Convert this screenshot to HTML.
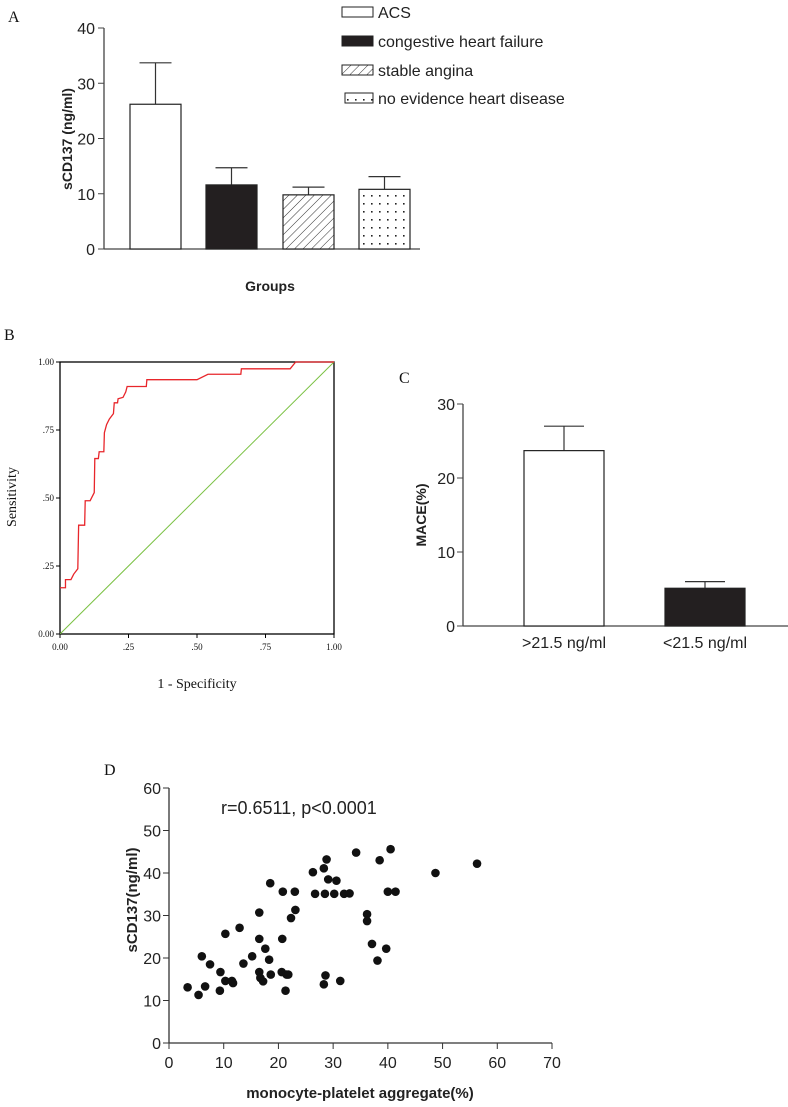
<!DOCTYPE html>
<html><head><meta charset="utf-8"><style>
body{margin:0;background:#fff}
svg{display:block}
.s{font-family:"Liberation Sans",sans-serif;fill:#222}
.r{font-family:"Liberation Serif",serif;fill:#111}
</style></head><body>
<svg id="fig" width="788" height="1107" viewBox="0 0 788 1107" xmlns="http://www.w3.org/2000/svg">
<defs>
<pattern id="hatch" width="6" height="6" patternUnits="userSpaceOnUse" patternTransform="rotate(45)"><rect width="6" height="6" fill="#fff"/><line x1="0" y1="0" x2="0" y2="6" stroke="#333" stroke-width="1"/></pattern>
<pattern id="dots" width="8" height="8" patternUnits="userSpaceOnUse"><rect width="8" height="8" fill="#fff"/><rect x="3" y="3" width="1.6" height="1.6" fill="#222"/></pattern>
</defs>
<g id="A"></g>
<g id="B"></g>
<g id="C"></g>
<g id="D"></g>
</svg>
<script>
// Panel A data
const aGroups = ["ACS","congestive heart failure","stable angina","no evidence heart disease"];
const aMeans = [26.2, 11.6, 9.8, 10.8];
const aErr = [33.7, 14.7, 11.2, 13.1];
const aTicks = [0,10,20,30,40];
// Panel B data
const rocFpr = [0,0.02,0.02,0.04,0.05,0.065,0.068,0.09,0.092,0.11,0.125,0.127,0.14,0.143,0.16,0.162,0.17,0.18,0.195,0.198,0.21,0.212,0.23,0.24,0.245,0.315,0.317,0.5,0.54,0.66,0.662,0.84,0.86,1];
const rocTpr = [0.17,0.17,0.2,0.2,0.22,0.24,0.4,0.4,0.49,0.49,0.52,0.645,0.645,0.67,0.67,0.74,0.77,0.79,0.81,0.85,0.85,0.865,0.87,0.89,0.91,0.91,0.935,0.935,0.955,0.955,0.975,0.975,1,1];
const bTicks = ["0.00",".25",".50",".75","1.00"];
// Panel C data
const cGroups = [">21.5 ng/ml","<21.5 ng/ml"];
const cMeans = [23.7, 5.1];
const cErr = [27.0, 6.0];
const cTicks = [0,10,20,30];
// Panel D data
const dX = [3.4,5.4,6,6.6,7.5,9.4,9.3,10.3,10.3,11.5,11.7,12.9,13.6,15.2,16.5,16.5,16.5,16.7,17.2,17.6,18.3,18.5,18.6,20.6,20.7,20.8,21.3,21.5,21.8,22.3,23,23.1,26.3,26.7,28.3,28.3,28.5,28.6,28.8,29.1,30.2,30.6,31.3,32,33,34.2,36.2,36.2,37.1,38.1,38.5,39.7,40,40.5,41.4,48.7,56.3];
const dY = [13.1,11.3,20.4,13.3,18.5,16.7,12.3,25.7,14.6,14.6,14.1,27.1,18.7,20.4,30.7,24.5,16.7,15.3,14.5,22.2,19.6,37.6,16.1,16.7,24.5,35.6,12.3,16.1,16.1,29.4,35.6,31.3,40.2,35.1,13.8,41.1,35.1,15.9,43.2,38.5,35.1,38.2,14.6,35.1,35.2,44.8,30.3,28.7,23.3,19.4,43,22.2,35.6,45.6,35.6,40,42.2];
const dXTicks = [0,10,20,30,40,50,60,70];
const dYTicks = [0,10,20,30,40,50,60];

const NS="http://www.w3.org/2000/svg";
function mk(parent,tag,attrs,text){const e=document.createElementNS(NS,tag);for(const k in attrs)e.setAttribute(k,attrs[k]);if(text!==undefined)e.textContent=text;parent.appendChild(e);return e;}

// ---------- Panel A ----------
const A=document.getElementById('A');
const ay=v=>249-(v/40)*221;
const aBarX=[130,206,283,359], aW=51;
const aFills=["#fff","#231f20","url(#hatch)","url(#dots)"];
let t=mk(A,'text',{x:8,y:22,class:'r','font-size':16},'A');

let ax=mk(A,'line',{x1:104,y1:28,x2:104,y2:249,stroke:'#444','stroke-width':1.3});

ax=mk(A,'line',{x1:104,y1:249,x2:420,y2:249,stroke:'#444','stroke-width':1.3});

aTicks.forEach(v=>{mk(A,'line',{x1:98,y1:ay(v),x2:104,y2:ay(v),stroke:'#444'});
 const l=mk(A,'text',{x:95,y:ay(v)+6,class:'s','font-size':16,'text-anchor':'end'},v);
 });
aMeans.forEach((v,i)=>{const cx=aBarX[i]+aW/2;
 mk(A,'line',{x1:cx,y1:ay(v),x2:cx,y2:ay(aErr[i]),stroke:'#333','stroke-width':1.2});
 mk(A,'line',{x1:cx-16,y1:ay(aErr[i]),x2:cx+16,y2:ay(aErr[i]),stroke:'#333','stroke-width':1.2});
 const b=mk(A,'rect',{x:aBarX[i],y:ay(v),width:aW,height:ay(0)-ay(v),fill:aFills[i],stroke:'#222','stroke-width':1.2});
 });
t=mk(A,'text',{x:0,y:0,class:'s','font-size':14,'font-weight':'bold','text-anchor':'middle',transform:'translate(72,139) rotate(-90)'},'sCD137 (ng/ml)');

t=mk(A,'text',{x:270,y:291,class:'s','font-size':14,'font-weight':'bold','text-anchor':'middle'},'Groups');

const legY=[12,41,70,98];
aGroups.forEach((g,i)=>{const r=mk(A,'rect',{x:i==3?345:342,y:legY[i]-5,width:i==3?28:31,height:10,fill:aFills[i],stroke:'#222','stroke-width':1});
 
 const l=mk(A,'text',{x:378,y:legY[i]+6,class:'s','font-size':16},g);
 });

// ---------- Panel B ----------
const B=document.getElementById('B');
const bx=v=>60+v*274, by=v=>634-v*272;
t=mk(B,'text',{x:4,y:340,class:'r','font-size':16},'B');

let fr=mk(B,'rect',{x:60,y:362,width:274,height:272,fill:'none',stroke:'#000','stroke-width':1.3});

let dg=mk(B,'line',{x1:bx(0),y1:by(0),x2:bx(1),y2:by(1),stroke:'#7ac143','stroke-width':1});

const rp=rocFpr.map((f,i)=>bx(f)+','+by(rocTpr[i])).join(' ');
let rl=mk(B,'polyline',{points:rp,fill:'none',stroke:'#e8262b','stroke-width':1.3});

bTicks.forEach((s,i)=>{const v=i/4;
 mk(B,'line',{x1:56,y1:by(v),x2:60,y2:by(v),stroke:'#000'});
 mk(B,'line',{x1:bx(v),y1:634,x2:bx(v),y2:638,stroke:'#000'});
 let l=mk(B,'text',{x:54,y:by(v)+3,class:'r','font-size':9,'text-anchor':'end'},s);
 
 l=mk(B,'text',{x:bx(v),y:650,class:'r','font-size':9,'text-anchor':'middle'},s);
 });
t=mk(B,'text',{x:0,y:0,class:'r','font-size':14,'text-anchor':'middle',transform:'translate(16,497) rotate(-90)'},'Sensitivity');

t=mk(B,'text',{x:197,y:688,class:'r','font-size':14,'text-anchor':'middle'},'1 - Specificity');


// ---------- Panel C ----------
const C=document.getElementById('C');
const cy=v=>626-(v/30)*222;
const cBarX=[524,665], cW=80, cFills=["#fff","#231f20"];
t=mk(C,'text',{x:399,y:383,class:'r','font-size':16},'C');

ax=mk(C,'line',{x1:463,y1:404,x2:463,y2:626,stroke:'#444','stroke-width':1.3});

ax=mk(C,'line',{x1:463,y1:626,x2:788,y2:626,stroke:'#444','stroke-width':1.3});

cTicks.forEach(v=>{mk(C,'line',{x1:457,y1:cy(v),x2:463,y2:cy(v),stroke:'#444'});
 const l=mk(C,'text',{x:455,y:cy(v)+6,class:'s','font-size':16,'text-anchor':'end'},v);
 });
cMeans.forEach((v,i)=>{const cx=cBarX[i]+cW/2;
 mk(C,'line',{x1:cx,y1:cy(v),x2:cx,y2:cy(cErr[i]),stroke:'#333','stroke-width':1.2});
 mk(C,'line',{x1:cx-20,y1:cy(cErr[i]),x2:cx+20,y2:cy(cErr[i]),stroke:'#333','stroke-width':1.2});
 const b=mk(C,'rect',{x:cBarX[i],y:cy(v),width:cW,height:cy(0)-cy(v),fill:cFills[i],stroke:'#222','stroke-width':1.2});
 
 const l=mk(C,'text',{x:cx,y:648,class:'s','font-size':16,'text-anchor':'middle'},cGroups[i]);
 });
t=mk(C,'text',{x:0,y:0,class:'s','font-size':14,'font-weight':'bold','text-anchor':'middle',transform:'translate(426,515) rotate(-90)'},'MACE(%)');


// ---------- Panel D ----------
const D=document.getElementById('D');
const dxf=v=>169+(v/70)*383, dyf=v=>1043-(v/60)*255;
t=mk(D,'text',{x:104,y:775,class:'r','font-size':16},'D');

ax=mk(D,'line',{x1:169,y1:788,x2:169,y2:1043,stroke:'#333','stroke-width':1.3});

ax=mk(D,'line',{x1:169,y1:1043,x2:552,y2:1043,stroke:'#333','stroke-width':1.3});

dYTicks.forEach(v=>{mk(D,'line',{x1:163,y1:dyf(v),x2:169,y2:dyf(v),stroke:'#333'});
 const l=mk(D,'text',{x:161,y:dyf(v)+6,class:'s','font-size':16,'text-anchor':'end'},v);
 });
dXTicks.forEach(v=>{mk(D,'line',{x1:dxf(v),y1:1043,x2:dxf(v),y2:1049,stroke:'#333'});
 const l=mk(D,'text',{x:dxf(v),y:1068,class:'s','font-size':16,'text-anchor':'middle'},v);
 });
dX.forEach((x,i)=>{const c=mk(D,'circle',{cx:dxf(x),cy:dyf(dY[i]),r:4.3,fill:'#111'});
 });
t=mk(D,'text',{x:221,y:814,class:'s','font-size':18},'r=0.6511, p<0.0001');

t=mk(D,'text',{x:0,y:0,class:'s','font-size':15,'font-weight':'bold','text-anchor':'middle',transform:'translate(137,900) rotate(-90)'},'sCD137(ng/ml)');

t=mk(D,'text',{x:360,y:1098,class:'s','font-size':15,'font-weight':'bold','text-anchor':'middle'},'monocyte-platelet aggregate(%)');

</script>
</body></html>
